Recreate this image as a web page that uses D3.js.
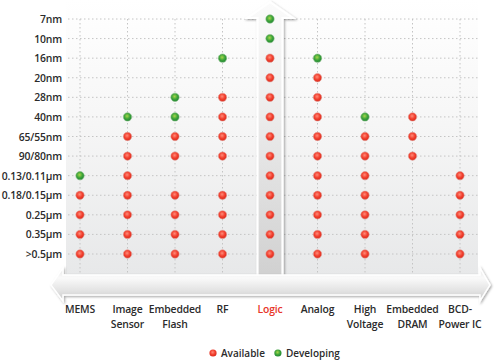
<!DOCTYPE html>
<html><head><meta charset="utf-8">
<script src="https://cdn.jsdelivr.net/npm/d3@7/dist/d3.min.js"></script>
<style>body{margin:0;background:#fff}svg{display:block}text{font-family:"Open Sans",sans-serif}</style>
</head><body>
<svg id="c" width="495" height="360"></svg>
<script>
const nodes = ["7nm","10nm","16nm","20nm","28nm","40nm","65/55nm","90/80nm","0.13/0.11μm","0.18/0.15μm","0.25μm","0.35μm",">0.5μm"];
const categories = ["MEMS","Image Sensor","Embedded Flash","RF","Logic","Analog","High Voltage","Embedded DRAM","BCD-Power IC"];
const categoryLines = [["MEMS"],["Image","Sensor"],["Embedded","Flash"],["RF"],["Logic"],["Analog"],["High","Voltage"],["Embedded","DRAM"],["BCD-","Power IC"]];
// nodes available (red) and developing (green) per category
const available = [
  [">0.5μm","0.35μm","0.25μm","0.18/0.15μm"],
  [">0.5μm","0.35μm","0.25μm","0.18/0.15μm","0.13/0.11μm","90/80nm","65/55nm"],
  [">0.5μm","0.35μm","0.25μm","0.18/0.15μm","90/80nm","65/55nm"],
  [">0.5μm","0.35μm","0.25μm","0.18/0.15μm","90/80nm","65/55nm","40nm","28nm"],
  [">0.5μm","0.35μm","0.25μm","0.18/0.15μm","0.13/0.11μm","90/80nm","65/55nm","40nm","28nm","20nm","16nm"],
  [">0.5μm","0.35μm","0.25μm","0.18/0.15μm","0.13/0.11μm","90/80nm","65/55nm","40nm","28nm","20nm"],
  [">0.5μm","0.35μm","0.25μm","0.18/0.15μm","0.13/0.11μm","90/80nm","65/55nm"],
  ["90/80nm","65/55nm","40nm"],
  [">0.5μm","0.35μm","0.25μm","0.18/0.15μm","0.13/0.11μm"]
];
const developing = [
  ["0.13/0.11μm"],
  ["40nm"],
  ["40nm","28nm"],
  ["16nm"],
  ["10nm","7nm"],
  ["16nm"],
  ["40nm"],
  [],
  []
];
const legendItems = [["Available","red"],["Developing","green"]];
const highlight = "Logic";

const svg = d3.select("#c");
const defs = svg.append("defs");
const x = d3.scalePoint().domain(categories).range([80,460]);
const y = d3.scalePoint().domain(nodes).range([19,254]);

function radial(id, c0, c1, c2){
  const g = defs.append("radialGradient").attr("id",id).attr("cx","45%").attr("cy","40%").attr("r","60%");
  g.append("stop").attr("offset","0%").attr("stop-color",c0);
  g.append("stop").attr("offset","55%").attr("stop-color",c1);
  g.append("stop").attr("offset","100%").attr("stop-color",c2);
}
radial("gred","#ff8a78","#f2402f","#d92a1c");
radial("ggreen","#a6d64a","#3fa53a","#1d8530");
const lg = (id, x1,y1,x2,y2, stops) => {
  const g = defs.append("linearGradient").attr("id",id).attr("x1",x1).attr("y1",y1).attr("x2",x2).attr("y2",y2);
  stops.forEach(s=>g.append("stop").attr("offset",s[0]).attr("stop-color",s[1]));
};
lg("panel",0,0,0,1,[["0%","#ffffff"],["45%","#f6f6f6"],["100%","#e7e8e9"]]);
lg("harrow",0,0,0,1,[["0%","#e6e6e6"],["30%","#fafafa"],["70%","#e2e2e2"],["100%","#c9c9c9"]]);
lg("varrow",0,0,0,1,[["0%","#fbfbfb"],["40%","#ececec"],["100%","#d0d0d0"]]);
const f = defs.append("filter").attr("id","sh").attr("x","-20%").attr("y","-20%").attr("width","140%").attr("height","140%");
f.append("feDropShadow").attr("dx",1.2).attr("dy",1.2).attr("stdDeviation",1).attr("flood-color","#000").attr("flood-opacity",0.35);

// panel
svg.append("rect").attr("x",66).attr("y",0).attr("width",412).attr("height",276).attr("fill","url(#panel)");

// gridlines
svg.append("g").selectAll("line").data(nodes).join("line")
  .attr("x1",68).attr("x2",478).attr("y1",d=>y(d)).attr("y2",d=>y(d))
  .attr("stroke","#c4c4c4").attr("stroke-dasharray","1.5,2.5");
svg.append("g").selectAll("line").data(categories.filter(c=>c!==highlight)).join("line")
  .attr("x1",d=>x(d)).attr("x2",d=>x(d)).attr("y1",19).attr("y2",276)
  .attr("stroke","#c4c4c4").attr("stroke-dasharray","1.5,2.5");

// vertical arrow around highlight column
const cx = x(highlight);
const vPath = d3.path();
vPath.moveTo(cx, 2); vPath.lineTo(cx+23, 18); vPath.lineTo(cx+12.5, 18); vPath.lineTo(cx+12.5, 278);
vPath.lineTo(cx-12.5, 278); vPath.lineTo(cx-12.5, 18); vPath.lineTo(cx-23, 18); vPath.closePath();
svg.append("path").attr("d",vPath.toString()).attr("fill","url(#varrow)")
  .attr("stroke","#fff").attr("stroke-width",2.2).attr("stroke-linejoin","miter").attr("filter","url(#sh)");

// horizontal arrow
const hy = 285, x0 = 51, x1 = 490;
const hPath = d3.path();
hPath.moveTo(x0, hy); hPath.lineTo(x0+12, hy-17); hPath.lineTo(x0+12, hy-10); hPath.lineTo(x1-10, hy-10);
hPath.lineTo(x1-10, hy-17); hPath.lineTo(x1, hy); hPath.lineTo(x1-10, hy+16); hPath.lineTo(x1-10, hy+10);
hPath.lineTo(x0+12, hy+10); hPath.lineTo(x0+12, hy+16); hPath.closePath();
svg.append("path").attr("d",hPath.toString()).attr("fill","url(#harrow)")
  .attr("stroke","#fff").attr("stroke-width",1.5).attr("filter","url(#sh)");

// dots
const pts = [];
categories.forEach((c,i)=>{
  available[i].forEach(n=>pts.push({c,n,s:"red"}));
  developing[i].forEach(n=>pts.push({c,n,s:"green"}));
});
svg.append("g").selectAll("circle").data(pts).join("circle")
  .attr("cx",d=>x(d.c)).attr("cy",d=>y(d.n)).attr("r",4.2)
  .attr("fill",d=>d.s==="red"?"url(#gred)":"url(#ggreen)")
  .attr("stroke",d=>d.s==="red"?"#e0a19a":"#8fbf8a").attr("stroke-width",0.6);

// y labels
svg.append("g").selectAll("text").data(nodes).join("text")
  .attr("x",62).attr("y",d=>y(d)+4).attr("text-anchor","end")
  .attr("font-size",10.4).attr("font-weight",600).attr("letter-spacing",-0.15).attr("fill","#2b2b2b").text(d=>d);

// x labels
const xl = svg.append("g").selectAll("text").data(categories).join("text")
  .attr("x",d=>x(d)).attr("y",313).attr("text-anchor","middle")
  .attr("font-size",10.4).attr("font-weight",600).attr("letter-spacing",-0.15)
  .attr("fill",d=>d===highlight?"#e8362a":"#2b2b2b");
xl.each(function(d,i){
  const t = d3.select(this);
  categoryLines[i].forEach((l,j)=>t.append("tspan").attr("x",x(d)).attr("dy",j?14.5:0).text(l));
});

// legend
const leg = svg.append("g");
let lx = 213;
legendItems.forEach(([lab,s])=>{
  leg.append("circle").attr("cx",lx).attr("cy",353).attr("r",3.6).attr("fill",s==="red"?"url(#gred)":"url(#ggreen)");
  const t = leg.append("text").attr("x",lx+8).attr("y",357).attr("font-size",10).attr("font-weight",600).attr("fill","#2b2b2b").text(lab);
  lx += t.node().getComputedTextLength() + 21;
});
</script>
</body></html>
